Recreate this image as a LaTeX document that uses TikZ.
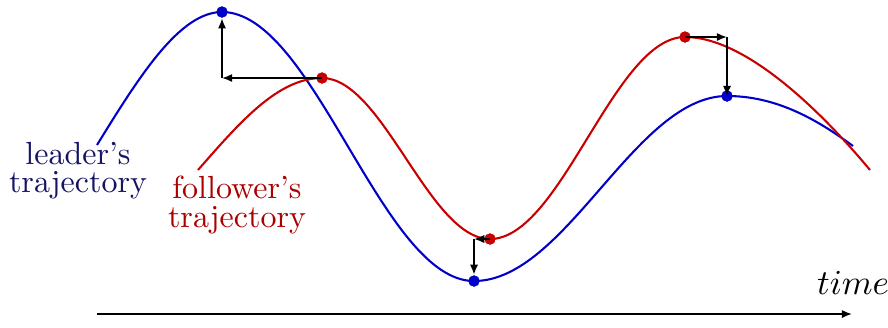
\documentclass[tikz,border=0pt]{standalone}
\usetikzlibrary{arrows.meta}
\definecolor{lblue}{RGB}{0,0,200}
\definecolor{fred}{RGB}{200,0,0}
\definecolor{navy}{RGB}{20,20,100}
\definecolor{dred}{RGB}{170,0,0}
\begin{document}
\begin{tikzpicture}[x=0.3125pt,y=-0.3125pt,
  curve/.style={line width=0.65pt},
  bdot/.style={circle,fill=lblue,inner sep=0pt,minimum size=3.5pt},
  rdot/.style={circle,fill=fred,inner sep=0pt,minimum size=3.5pt},
  arr/.style={line width=0.55pt,-{Latex[length=3.2pt,width=2.6pt]}},
  lab/.style={align=center,inner sep=0pt,font=\fontsize{10}{8.8}\selectfont}]
\useasboundingbox (0,0) rectangle (888,327);
% dots
\node[bdot] (b1) at (222,12) {};
\node[bdot] (b2) at (474,281) {};
\node[bdot] (b3) at (727,96) {};
\node[rdot] (r1) at (322,78) {};
\node[rdot] (r2) at (490,239) {};
\node[rdot] (r3) at (685,37) {};
\coordinate (c1) at (222,78);
\coordinate (c2) at (474,239);
\coordinate (c3) at (727,37);
\coordinate (bs) at (97,145);
\coordinate (be) at (853,146);
\coordinate (rs) at (198,170);
\coordinate (re) at (870,170);
% curves
\draw[curve,lblue] (bs) .. controls (140,75) and (180,12) .. (b1.center)
  .. controls (314,12) and (382,281) .. (b2.center)
  .. controls (566,281) and (635,96) .. (b3.center)
  .. controls (775,96) and (815,118) .. (be);
\draw[curve,fred] (rs) .. controls (240,122) and (278,78) .. (r1.center)
  .. controls (383,78) and (429,239) .. (r2.center)
  .. controls (561,239) and (614,37) .. (r3.center)
  .. controls (745,37) and (820,110) .. (re);
% dots on top
\node[bdot] at (b1) {};
\node[bdot] at (b2) {};
\node[bdot] at (b3) {};
\node[rdot] at (r1) {};
\node[rdot] at (r2) {};
\node[rdot] at (r3) {};
% arrows
\draw[arr] (r1.center) -- (c1);
\draw[arr] (c1) -- (b1.south);
\draw[arr] (r2.center) -- (c2);
\draw[arr] (c2) -- (b2.north);
\draw[arr] (r3.center) -- (c3);
\draw[arr] (c3) -- (b3.center);
% time axis
\coordinate (t0) at (97,314);
\coordinate (t1) at (852,314);
\draw[arr] (t0) -- (t1);
\node[inner sep=0pt,font=\fontsize{10.5}{12}\selectfont] (time) at (853,283) {$time$};
% labels
\node[lab,text=navy] (ll) at (78,171) {leader's\\trajectory};
\node[lab,text=dred] (fl) at (237,205) {follower's\\trajectory};
\end{tikzpicture}
\end{document}
